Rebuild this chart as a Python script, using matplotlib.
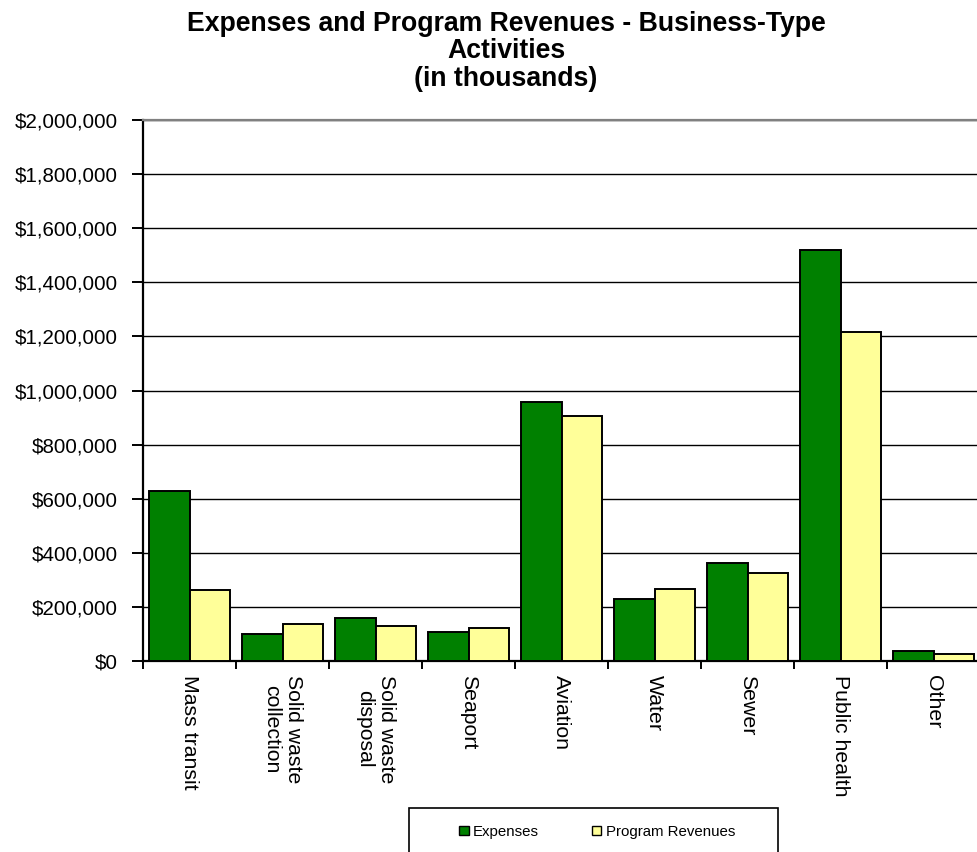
import matplotlib
matplotlib.use("Agg")
import matplotlib.pyplot as plt
from matplotlib.patches import Rectangle
from matplotlib.ticker import FuncFormatter, MultipleLocator, FixedLocator
import numpy as np

plt.rcParams['font.family'] = ['Liberation Sans', 'DejaVu Sans']

categories = ["Mass transit", "Solid waste\ncollection", "Solid waste\ndisposal",
              "Seaport", "Aviation", "Water", "Sewer", "Public health", "Other"]
expenses = [630000, 100000, 159000, 108000, 957000, 230000, 364000, 1519000, 36000]
program_revenues = [262000, 137000, 130000, 123000, 906000, 267000, 327000, 1215000, 26000]

series_names = ["Expenses", "Program Revenues"]
colors = ["#008000", "#FFFF99"]

W, H = 977, 852
fig = plt.figure(figsize=(W / 100, H / 100), dpi=100)
ax = fig.add_axes([143 / W, (H - 661) / H, (980 - 143) / W, (661 - 120) / H])

x = np.arange(len(categories))
bw = 0.435
b1 = ax.bar(x - bw / 2, expenses, width=bw, color=colors[0], edgecolor="black",
            linewidth=1.4, zorder=3, label=series_names[0])
b2 = ax.bar(x + bw / 2, program_revenues, width=bw, color=colors[1], edgecolor="black",
            linewidth=1.4, zorder=3, label=series_names[1])

ax.set_xlim(-0.5, len(categories) - 0.5)
ax.set_ylim(0, 2000000)
ax.yaxis.set_major_locator(MultipleLocator(200000))
ax.yaxis.set_major_formatter(FuncFormatter(lambda v, p: f"${v:,.0f}"))
ax.grid(axis="y", color="black", linewidth=1.0, zorder=0)

# category ticks sit on group boundaries; labels at group centres
ax.xaxis.set_major_locator(FixedLocator(np.arange(len(categories) + 1) - 0.5))
ax.xaxis.set_major_formatter(FuncFormatter(lambda v, p: ""))
ax.xaxis.set_minor_locator(FixedLocator(x))
ax.set_xticks(x, categories, minor=True)
ax.tick_params(axis="x", which="minor", length=0, pad=10, labelsize=15.3,
               labelrotation=-90)
for lbl in ax.get_xticklabels(minor=True):
    lbl.set_multialignment("center")
    lbl.set_va("top")
ax.tick_params(axis="x", which="major", length=6, width=1.4, direction="out")
ax.tick_params(axis="y", length=8, width=1.4, direction="out", labelsize=14.8, pad=10)

ax.spines["right"].set_visible(False)
ax.spines["top"].set_color("#808080")
ax.spines["top"].set_linewidth(1.6)
ax.spines["left"].set_linewidth(1.6)
ax.spines["bottom"].set_linewidth(1.6)

fig.text(506 / W, 1 - 11 / H,
         "Expenses and Program Revenues - Business-Type\nActivities\n(in thousands)",
         ha="center", va="top", fontsize=19.2, fontweight="bold", linespacing=1.07)

# legend box
fig.patches.append(Rectangle((409 / W, -0.03), (778 - 409) / W, 0.03 + 44 / H,
                             transform=fig.transFigure, facecolor="white",
                             edgecolor="black", linewidth=1.2, zorder=1))
leg = fig.legend(handles=[b1, b2], labels=series_names, loc="center",
                 bbox_to_anchor=(597 / W, 20 / H), ncol=2, frameon=False,
                 fontsize=10.8, handlelength=0.65, handleheight=0.5,
                 handletextpad=0.3, columnspacing=3.5)
leg.set_zorder(2)
for h in leg.legend_handles:
    h.set_linewidth(1.0)

fig.savefig("out.png", dpi=100)
